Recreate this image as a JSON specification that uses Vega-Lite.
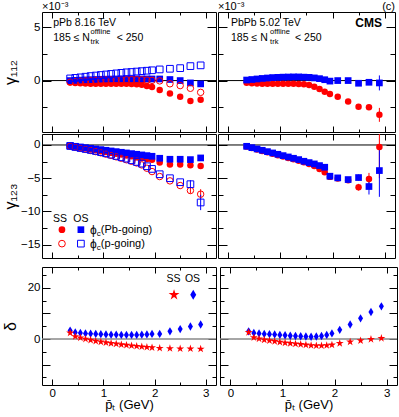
{
"$schema":"https://vega.github.io/schema/vega-lite/v6.json",
"padding":{"left":1,"top":0,"right":0,"bottom":0},
"config":{"font":"Liberation Sans","view":{"stroke":"#000","strokeWidth":1},"point":{"opacity":1},
"axis":{"domain":false,"grid":false,"tickColor":"#000","tickWidth":1,"labelColor":"#000","titleColor":"#000","labelFont":"Liberation Sans","titleFont":"Liberation Sans","labelFontSize":11.5,"titleFontWeight":"normal","labelPadding":3},
"text":{"font":"Liberation Sans","color":"#000"}},
"datasets":{
"A":[{"x":0.35,"sPb":-0.15,"oPb":0.0,"sp":-0.15,"op":0.2},{"x":0.45,"sPb":-0.22,"oPb":0.02,"sp":-0.1,"op":0.25},{"x":0.55,"sPb":-0.26,"oPb":0.04,"sp":-0.06,"op":0.3},{"x":0.65,"sPb":-0.28,"oPb":0.06,"sp":-0.03,"op":0.36},{"x":0.75,"sPb":-0.3,"oPb":0.08,"sp":0.0,"op":0.42},{"x":0.85,"sPb":-0.3,"oPb":0.1,"sp":0.02,"op":0.47},{"x":0.95,"sPb":-0.3,"oPb":0.12,"sp":0.04,"op":0.52},{"x":1.05,"sPb":-0.3,"oPb":0.13,"sp":0.05,"op":0.57},{"x":1.15,"sPb":-0.3,"oPb":0.14,"sp":0.06,"op":0.62},{"x":1.25,"sPb":-0.3,"oPb":0.15,"sp":0.07,"op":0.67},{"x":1.35,"sPb":-0.3,"oPb":0.15,"sp":0.08,"op":0.72},{"x":1.45,"sPb":-0.3,"oPb":0.15,"sp":0.08,"op":0.77},{"x":1.55,"sPb":-0.32,"oPb":0.15,"sp":0.08,"op":0.8},{"x":1.65,"sPb":-0.35,"oPb":0.15,"sp":0.08,"op":0.84},{"x":1.75,"sPb":-0.4,"oPb":0.15,"sp":0.07,"op":0.88},{"x":1.85,"sPb":-0.5,"oPb":0.15,"sp":0.05,"op":0.92},{"x":1.95,"sPb":-0.6,"oPb":0.15,"sp":0.02,"op":0.96},{"x":2.1,"sPb":-0.88,"oPb":0.15,"sp":-0.03,"op":1.04},{"x":2.3,"sPb":-1.2,"oPb":0.1,"sp":-0.3,"op":1.1},{"x":2.5,"sPb":-1.5,"oPb":0.0,"sp":-0.47,"op":1.16},{"x":2.7,"sPb":-1.9,"oPb":-0.22,"sp":-0.72,"op":1.35},{"x":2.9,"sPb":-1.8,"oPb":-0.31,"sp":-1.1,"op":1.42}],
"B":[{"x":0.35,"s":-0.2,"o":0.05},{"x":0.45,"s":-0.25,"o":0.1},{"x":0.55,"s":-0.28,"o":0.15},{"x":0.65,"s":-0.3,"o":0.2},{"x":0.75,"s":-0.3,"o":0.24},{"x":0.85,"s":-0.3,"o":0.28},{"x":0.95,"s":-0.3,"o":0.3},{"x":1.05,"s":-0.3,"o":0.32},{"x":1.15,"s":-0.3,"o":0.33},{"x":1.25,"s":-0.3,"o":0.34},{"x":1.35,"s":-0.32,"o":0.34},{"x":1.45,"s":-0.35,"o":0.32},{"x":1.55,"s":-0.42,"o":0.3},{"x":1.65,"s":-0.57,"o":0.25},{"x":1.75,"s":-0.79,"o":0.18},{"x":1.85,"s":-1.04,"o":0.08},{"x":1.95,"s":-1.26,"o":-0.05},{"x":2.1,"s":-1.5,"o":0.0},{"x":2.3,"s":-1.95,"o":0.0},{"x":2.5,"s":-2.45,"o":-0.25},{"x":2.7,"s":-2.5,"o":-0.16},{"x":2.9,"s":-3.2,"o":-0.22,"sLo":-3.85,"sHi":-2.55,"oLo":-0.92,"oHi":0.48}],
"C":[{"x":0.35,"sPb":-0.15,"oPb":-0.1,"sp":-0.2,"op":-0.15},{"x":0.45,"sPb":-0.28,"oPb":-0.2,"sp":-0.35,"op":-0.3},{"x":0.55,"sPb":-0.41,"oPb":-0.3,"sp":-0.5,"op":-0.45},{"x":0.65,"sPb":-0.54,"oPb":-0.4,"sp":-0.65,"op":-0.6},{"x":0.75,"sPb":-0.67,"oPb":-0.5,"sp":-0.82,"op":-0.75},{"x":0.85,"sPb":-0.8,"oPb":-0.6,"sp":-1.0,"op":-0.9},{"x":0.95,"sPb":-0.93,"oPb":-0.7,"sp":-1.18,"op":-1.07},{"x":1.05,"sPb":-1.06,"oPb":-0.8,"sp":-1.37,"op":-1.25},{"x":1.15,"sPb":-1.19,"oPb":-0.9,"sp":-1.57,"op":-1.45},{"x":1.25,"sPb":-1.32,"oPb":-1.0,"sp":-1.78,"op":-1.65},{"x":1.35,"sPb":-1.45,"oPb":-1.1,"sp":-2.0,"op":-1.85},{"x":1.45,"sPb":-1.58,"oPb":-1.2,"sp":-2.22,"op":-2.05},{"x":1.55,"sPb":-1.71,"oPb":-1.3,"sp":-2.45,"op":-2.3},{"x":1.65,"sPb":-1.84,"oPb":-1.4,"sp":-2.7,"op":-2.55},{"x":1.75,"sPb":-1.97,"oPb":-1.5,"sp":-3.0,"op":-2.8},{"x":1.85,"sPb":-2.1,"oPb":-1.6,"sp":-3.5,"op":-3.2},{"x":1.95,"sPb":-2.23,"oPb":-1.7,"sp":-4.0,"op":-3.6},{"x":2.1,"sPb":-2.65,"oPb":-2.0,"sp":-4.75,"op":-4.4},{"x":2.3,"sPb":-2.95,"oPb":-2.15,"sp":-5.4,"op":-5.0},{"x":2.5,"sPb":-2.95,"oPb":-2.15,"sp":-6.1,"op":-5.6},{"x":2.7,"sPb":-3.05,"oPb":-2.2,"sp":-6.85,"op":-5.9,"spLo":-7.3,"spHi":-6.4,"opLo":-6.5,"opHi":-5.3},{"x":2.9,"sPb":-3.15,"oPb":-1.95,"sp":-7.4,"op":-8.65,"spLo":-8.15,"spHi":-6.65,"opLo":-9.8,"opHi":-7.5}],
"D":[{"x":0.35,"s":-0.25,"o":-0.2},{"x":0.45,"s":-0.47,"o":-0.4},{"x":0.55,"s":-0.69,"o":-0.6},{"x":0.65,"s":-0.9,"o":-0.8},{"x":0.75,"s":-1.1,"o":-1.0},{"x":0.85,"s":-1.32,"o":-1.2},{"x":0.95,"s":-1.53,"o":-1.4},{"x":1.05,"s":-1.74,"o":-1.6},{"x":1.15,"s":-1.95,"o":-1.8},{"x":1.25,"s":-2.15,"o":-2.0},{"x":1.35,"s":-2.37,"o":-2.2},{"x":1.45,"s":-2.6,"o":-2.45},{"x":1.55,"s":-2.85,"o":-2.65},{"x":1.65,"s":-3.15,"o":-2.85},{"x":1.75,"s":-3.6,"o":-3.1},{"x":1.85,"s":-4.1,"o":-3.35},{"x":1.95,"s":-4.8,"o":-4.7},{"x":2.1,"s":-5.05,"o":-4.95},{"x":2.3,"s":-5.3,"o":-5.2},{"x":2.5,"s":-6.35,"o":-4.9,"sLo":-6.85,"sHi":-5.85,"oLo":-5.35,"oHi":-4.45},{"x":2.7,"s":-5.1,"o":-6.25,"sLo":-6.0,"sHi":-4.2,"oLo":-7.45,"oHi":-5.05},{"x":2.9,"s":-0.3,"o":-3.85,"sLo":-5.0,"sHi":4.4,"oLo":-7.8,"oHi":0.1}],
"E":[{"x":0.35,"s":2.4,"o":3.3},{"x":0.45,"s":1.0,"o":2.6},{"x":0.55,"s":0.5,"o":2.4},{"x":0.65,"s":0.0,"o":2.2},{"x":0.75,"s":-0.4,"o":2.1},{"x":0.85,"s":-0.8,"o":2.0},{"x":0.95,"s":-1.1,"o":1.9},{"x":1.05,"s":-1.4,"o":1.8},{"x":1.15,"s":-1.7,"o":1.7},{"x":1.25,"s":-1.9,"o":1.7},{"x":1.35,"s":-2.2,"o":1.6},{"x":1.45,"s":-2.4,"o":1.6},{"x":1.55,"s":-2.6,"o":1.6},{"x":1.65,"s":-2.8,"o":1.6},{"x":1.75,"s":-3.0,"o":1.7},{"x":1.85,"s":-3.2,"o":1.8},{"x":1.95,"s":-3.35,"o":2.0},{"x":2.1,"s":-3.6,"o":2.0},{"x":2.3,"s":-3.7,"o":3.0},{"x":2.5,"s":-3.8,"o":3.9},{"x":2.7,"s":-3.8,"o":4.9},{"x":2.9,"s":-3.9,"o":5.7}],
"F":[{"x":0.35,"s":2.6,"o":3.0},{"x":0.45,"s":0.6,"o":2.4},{"x":0.55,"s":0.1,"o":2.2},{"x":0.65,"s":-0.3,"o":2.0},{"x":0.75,"s":-0.6,"o":1.9},{"x":0.85,"s":-0.9,"o":1.8},{"x":0.95,"s":-1.2,"o":1.6},{"x":1.05,"s":-1.5,"o":1.5},{"x":1.15,"s":-1.7,"o":1.3},{"x":1.25,"s":-1.9,"o":1.2},{"x":1.35,"s":-2.1,"o":1.1},{"x":1.45,"s":-2.3,"o":1.0},{"x":1.55,"s":-2.5,"o":0.9},{"x":1.65,"s":-2.6,"o":1.0},{"x":1.75,"s":-2.6,"o":1.2},{"x":1.85,"s":-2.5,"o":1.6},{"x":1.95,"s":-2.3,"o":2.2},{"x":2.1,"s":-1.7,"o":3.6},{"x":2.3,"s":-1.1,"o":5.7},{"x":2.5,"s":-0.6,"o":8.1},{"x":2.7,"s":-0.1,"o":10.6},{"x":2.9,"s":0.3,"o":12.8}]
},
"spacing":7,
"vconcat":[
{"spacing":0,"vconcat":[
{"spacing":0,"hconcat":[
{"width":174,"height":120,"resolve":{"axis":{"x":"independent","y":"independent"}},"layer":[
{"data":{"values":[{}]},"mark":{"type":"rule","color":"#000","strokeWidth":1},"encoding":{"y":{"datum":0,"type":"quantitative","scale":{"domain":[-4.8,6.4],"nice":false,"zero":false},"axis":null}}},
{"data":{"name":"A"},"mark":{"type":"point","shape":"circle","filled":true,"color":"#ff0000","size":42},"encoding":{"x":{"field":"x","type":"quantitative","scale":{"domain":[-0.2,3.2],"nice":false,"zero":false},"axis":{"orient":"bottom","values":[0,0.5,1,1.5,2,2.5,3],"labels":false,"title":null,"tickSize":{"condition":{"test":"datum.value % 1 === 0","value":-6},"value":-3}}},"y":{"field":"sPb","type":"quantitative","scale":{"domain":[-4.8,6.4],"nice":false,"zero":false},"axis":{"orient":"left","values":[-2.5,0,2.5,5],"labelExpr":"datum.value % 5 === 0 ? format(datum.value, 'd') : ''","labelPadding":11,"tickSize":{"condition":{"test":"datum.value % 5 === 0","value":-9},"value":-5},"title":"γ₁₁₂","titleFontSize":16,"titlePadding":0,"minExtent":24,"maxExtent":24}}}},
{"data":{"name":"A"},"mark":{"type":"point","shape":"square","filled":true,"color":"#0000ff","size":45},"encoding":{"x":{"field":"x","type":"quantitative","scale":{"domain":[-0.2,3.2],"nice":false,"zero":false},"axis":{"orient":"top","values":[0,0.5,1,1.5,2,2.5,3],"labels":false,"title":null,"tickSize":{"condition":{"test":"datum.value % 1 === 0","value":-6},"value":-3}}},"y":{"field":"oPb","type":"quantitative","scale":{"domain":[-4.8,6.4],"nice":false,"zero":false},"axis":{"orient":"right","values":[-2.5,0,2.5,5],"labels":false,"title":null,"tickSize":{"condition":{"test":"datum.value % 5 === 0","value":-9},"value":-5},"minExtent":0,"maxExtent":0}}}},
{"data":{"name":"A"},"mark":{"type":"point","shape":"circle","filled":false,"color":"#ff0000","strokeWidth":1,"size":42},"encoding":{"x":{"field":"x","type":"quantitative","scale":{"domain":[-0.2,3.2],"nice":false,"zero":false},"axis":null},"y":{"field":"sp","type":"quantitative","scale":{"domain":[-4.8,6.4],"nice":false,"zero":false},"axis":null}}},
{"data":{"name":"A"},"mark":{"type":"point","shape":"square","filled":false,"color":"#0000ff","strokeWidth":1,"size":45},"encoding":{"x":{"field":"x","type":"quantitative","scale":{"domain":[-0.2,3.2],"nice":false,"zero":false},"axis":null},"y":{"field":"op","type":"quantitative","scale":{"domain":[-4.8,6.4],"nice":false,"zero":false},"axis":null}}},
{"data":{"values":[{}]},"mark":{"type":"text","text":"×10⁻³","align":"left","baseline":"bottom","dy":0,"fontSize":11},"encoding":{"x":{"datum":-0.2,"type":"quantitative","scale":{"domain":[-0.2,3.2],"nice":false,"zero":false},"axis":null},"y":{"datum":6.4,"type":"quantitative","scale":{"domain":[-4.8,6.4],"nice":false,"zero":false},"axis":null}}},
{"data":{"values":[{}]},"mark":{"type":"text","text":"pPb 8.16 TeV","align":"left","baseline":"middle","fontSize":10.5},"encoding":{"x":{"datum":0.02,"type":"quantitative","scale":{"domain":[-0.2,3.2],"nice":false,"zero":false},"axis":null},"y":{"datum":5.4,"type":"quantitative","scale":{"domain":[-4.8,6.4],"nice":false,"zero":false},"axis":null}}},
{"data":{"values":[{}]},"mark":{"type":"text","text":"185 ≤ N","align":"left","baseline":"middle","fontSize":10.5},"encoding":{"x":{"datum":0.02,"type":"quantitative","scale":{"domain":[-0.2,3.2],"nice":false,"zero":false},"axis":null},"y":{"datum":3.95,"type":"quantitative","scale":{"domain":[-4.8,6.4],"nice":false,"zero":false},"axis":null}}},
{"data":{"values":[{}]},"mark":{"type":"text","text":"offline","align":"left","baseline":"middle","fontSize":7.5},"encoding":{"x":{"datum":0.75,"type":"quantitative","scale":{"domain":[-0.2,3.2],"nice":false,"zero":false},"axis":null},"y":{"datum":4.55,"type":"quantitative","scale":{"domain":[-4.8,6.4],"nice":false,"zero":false},"axis":null}}},
{"data":{"values":[{}]},"mark":{"type":"text","text":"trk","align":"left","baseline":"middle","fontSize":7.5},"encoding":{"x":{"datum":0.75,"type":"quantitative","scale":{"domain":[-0.2,3.2],"nice":false,"zero":false},"axis":null},"y":{"datum":3.6,"type":"quantitative","scale":{"domain":[-4.8,6.4],"nice":false,"zero":false},"axis":null}}},
{"data":{"values":[{}]},"mark":{"type":"text","text":"< 250","align":"left","baseline":"middle","fontSize":10.5},"encoding":{"x":{"datum":1.26,"type":"quantitative","scale":{"domain":[-0.2,3.2],"nice":false,"zero":false},"axis":null},"y":{"datum":3.95,"type":"quantitative","scale":{"domain":[-4.8,6.4],"nice":false,"zero":false},"axis":null}}}
]},
{"width":177,"height":120,"resolve":{"axis":{"x":"independent","y":"independent"}},"layer":[
{"data":{"values":[{}]},"mark":{"type":"rule","color":"#000","strokeWidth":1},"encoding":{"y":{"datum":0,"type":"quantitative","scale":{"domain":[-4.8,6.4],"nice":false,"zero":false},"axis":null}}},
{"data":{"name":"B"},"transform":[{"filter":"isValid(datum.sLo)"}],"mark":{"type":"rule","color":"#ff0000","strokeWidth":1,"clip":true},"encoding":{"x":{"field":"x","type":"quantitative","scale":{"domain":[-0.2,3.2],"nice":false,"zero":false},"axis":null},"y":{"field":"sLo","type":"quantitative","scale":{"domain":[-4.8,6.4],"nice":false,"zero":false},"axis":null},"y2":{"field":"sHi"}}},
{"data":{"name":"B"},"transform":[{"filter":"isValid(datum.oLo)"}],"mark":{"type":"rule","color":"#0000ff","strokeWidth":1,"clip":true},"encoding":{"x":{"field":"x","type":"quantitative","scale":{"domain":[-0.2,3.2],"nice":false,"zero":false},"axis":null},"y":{"field":"oLo","type":"quantitative","scale":{"domain":[-4.8,6.4],"nice":false,"zero":false},"axis":null},"y2":{"field":"oHi"}}},
{"data":{"name":"B"},"mark":{"type":"point","shape":"circle","filled":true,"color":"#ff0000","size":42},"encoding":{"x":{"field":"x","type":"quantitative","scale":{"domain":[-0.2,3.2],"nice":false,"zero":false},"axis":{"orient":"bottom","values":[0,0.5,1,1.5,2,2.5,3],"labels":false,"title":null,"tickSize":{"condition":{"test":"datum.value % 1 === 0","value":-6},"value":-3}}},"y":{"field":"s","type":"quantitative","scale":{"domain":[-4.8,6.4],"nice":false,"zero":false},"axis":{"orient":"left","values":[-2.5,0,2.5,5],"labels":false,"title":null,"tickSize":{"condition":{"test":"datum.value % 5 === 0","value":-9},"value":-5},"minExtent":0,"maxExtent":0}}}},
{"data":{"name":"B"},"mark":{"type":"point","shape":"square","filled":true,"color":"#0000ff","size":45},"encoding":{"x":{"field":"x","type":"quantitative","scale":{"domain":[-0.2,3.2],"nice":false,"zero":false},"axis":{"orient":"top","values":[0,0.5,1,1.5,2,2.5,3],"labels":false,"title":null,"tickSize":{"condition":{"test":"datum.value % 1 === 0","value":-6},"value":-3}}},"y":{"field":"o","type":"quantitative","scale":{"domain":[-4.8,6.4],"nice":false,"zero":false},"axis":{"orient":"right","values":[-2.5,0,2.5,5],"labels":false,"title":null,"tickSize":{"condition":{"test":"datum.value % 5 === 0","value":-9},"value":-5},"minExtent":0,"maxExtent":0}}}},
{"data":{"values":[{}]},"mark":{"type":"text","text":"×10⁻³","align":"left","baseline":"bottom","dy":0,"fontSize":11},"encoding":{"x":{"datum":-0.2,"type":"quantitative","scale":{"domain":[-0.2,3.2],"nice":false,"zero":false},"axis":null},"y":{"datum":6.4,"type":"quantitative","scale":{"domain":[-4.8,6.4],"nice":false,"zero":false},"axis":null}}},
{"data":{"values":[{}]},"mark":{"type":"text","text":"(c)","align":"right","baseline":"bottom","dy":0,"fontSize":11},"encoding":{"x":{"datum":3.2,"type":"quantitative","scale":{"domain":[-0.2,3.2],"nice":false,"zero":false},"axis":null},"y":{"datum":6.4,"type":"quantitative","scale":{"domain":[-4.8,6.4],"nice":false,"zero":false},"axis":null}}},
{"data":{"values":[{}]},"mark":{"type":"text","text":"PbPb 5.02 TeV","align":"left","baseline":"middle","fontSize":10.5},"encoding":{"x":{"datum":0.05,"type":"quantitative","scale":{"domain":[-0.2,3.2],"nice":false,"zero":false},"axis":null},"y":{"datum":5.4,"type":"quantitative","scale":{"domain":[-4.8,6.4],"nice":false,"zero":false},"axis":null}}},
{"data":{"values":[{}]},"mark":{"type":"text","text":"CMS","align":"right","baseline":"middle","fontSize":12,"fontWeight":"bold"},"encoding":{"x":{"datum":2.95,"type":"quantitative","scale":{"domain":[-0.2,3.2],"nice":false,"zero":false},"axis":null},"y":{"datum":5.4,"type":"quantitative","scale":{"domain":[-4.8,6.4],"nice":false,"zero":false},"axis":null}}},
{"data":{"values":[{}]},"mark":{"type":"text","text":"185 ≤ N","align":"left","baseline":"middle","fontSize":10.5},"encoding":{"x":{"datum":0.05,"type":"quantitative","scale":{"domain":[-0.2,3.2],"nice":false,"zero":false},"axis":null},"y":{"datum":3.95,"type":"quantitative","scale":{"domain":[-4.8,6.4],"nice":false,"zero":false},"axis":null}}},
{"data":{"values":[{}]},"mark":{"type":"text","text":"offline","align":"left","baseline":"middle","fontSize":7.5},"encoding":{"x":{"datum":0.8,"type":"quantitative","scale":{"domain":[-0.2,3.2],"nice":false,"zero":false},"axis":null},"y":{"datum":4.55,"type":"quantitative","scale":{"domain":[-4.8,6.4],"nice":false,"zero":false},"axis":null}}},
{"data":{"values":[{}]},"mark":{"type":"text","text":"trk","align":"left","baseline":"middle","fontSize":7.5},"encoding":{"x":{"datum":0.8,"type":"quantitative","scale":{"domain":[-0.2,3.2],"nice":false,"zero":false},"axis":null},"y":{"datum":3.6,"type":"quantitative","scale":{"domain":[-4.8,6.4],"nice":false,"zero":false},"axis":null}}},
{"data":{"values":[{}]},"mark":{"type":"text","text":"< 250","align":"left","baseline":"middle","fontSize":10.5},"encoding":{"x":{"datum":1.28,"type":"quantitative","scale":{"domain":[-0.2,3.2],"nice":false,"zero":false},"axis":null},"y":{"datum":3.95,"type":"quantitative","scale":{"domain":[-4.8,6.4],"nice":false,"zero":false},"axis":null}}}
]}
]},
{"spacing":0,"hconcat":[
{"width":174,"height":124,"resolve":{"axis":{"x":"independent","y":"independent"}},"layer":[
{"data":{"values":[{}]},"mark":{"type":"rule","color":"#000","strokeWidth":1},"encoding":{"y":{"datum":0,"type":"quantitative","scale":{"domain":[-17,1.65],"nice":false,"zero":false},"axis":null}}},
{"data":{"name":"C"},"transform":[{"filter":"isValid(datum.spLo)"}],"mark":{"type":"rule","color":"#ff0000","strokeWidth":1,"clip":true},"encoding":{"x":{"field":"x","type":"quantitative","scale":{"domain":[-0.2,3.2],"nice":false,"zero":false},"axis":null},"y":{"field":"spLo","type":"quantitative","scale":{"domain":[-17,1.65],"nice":false,"zero":false},"axis":null},"y2":{"field":"spHi"}}},
{"data":{"name":"C"},"transform":[{"filter":"isValid(datum.opLo)"}],"mark":{"type":"rule","color":"#0000ff","strokeWidth":1,"clip":true},"encoding":{"x":{"field":"x","type":"quantitative","scale":{"domain":[-0.2,3.2],"nice":false,"zero":false},"axis":null},"y":{"field":"opLo","type":"quantitative","scale":{"domain":[-17,1.65],"nice":false,"zero":false},"axis":null},"y2":{"field":"opHi"}}},
{"data":{"name":"C"},"mark":{"type":"point","shape":"circle","filled":true,"color":"#ff0000","size":42},"encoding":{"x":{"field":"x","type":"quantitative","scale":{"domain":[-0.2,3.2],"nice":false,"zero":false},"axis":{"orient":"bottom","values":[0,0.5,1,1.5,2,2.5,3],"labels":false,"title":null,"tickSize":{"condition":{"test":"datum.value % 1 === 0","value":-6},"value":-3}}},"y":{"field":"sPb","type":"quantitative","scale":{"domain":[-17,1.65],"nice":false,"zero":false},"axis":{"orient":"left","values":[-15,-12.5,-10,-7.5,-5,-2.5,0],"labelExpr":"datum.value % 5 === 0 ? format(datum.value, 'd') : ''","labelPadding":11,"tickSize":{"condition":{"test":"datum.value % 5 === 0","value":-9},"value":-5},"title":"γ₁₂₃","titleFontSize":16,"titlePadding":0,"minExtent":24,"maxExtent":24}}}},
{"data":{"name":"C"},"mark":{"type":"point","shape":"square","filled":true,"color":"#0000ff","size":45},"encoding":{"x":{"field":"x","type":"quantitative","scale":{"domain":[-0.2,3.2],"nice":false,"zero":false},"axis":{"orient":"top","values":[0,0.5,1,1.5,2,2.5,3],"labels":false,"title":null,"tickSize":{"condition":{"test":"datum.value % 1 === 0","value":-6},"value":-3}}},"y":{"field":"oPb","type":"quantitative","scale":{"domain":[-17,1.65],"nice":false,"zero":false},"axis":{"orient":"right","values":[-15,-12.5,-10,-7.5,-5,-2.5,0],"labels":false,"title":null,"tickSize":{"condition":{"test":"datum.value % 5 === 0","value":-9},"value":-5},"minExtent":0,"maxExtent":0}}}},
{"data":{"name":"C"},"mark":{"type":"point","shape":"circle","filled":false,"color":"#ff0000","strokeWidth":1,"size":42},"encoding":{"x":{"field":"x","type":"quantitative","scale":{"domain":[-0.2,3.2],"nice":false,"zero":false},"axis":null},"y":{"field":"sp","type":"quantitative","scale":{"domain":[-17,1.65],"nice":false,"zero":false},"axis":null}}},
{"data":{"name":"C"},"mark":{"type":"point","shape":"square","filled":false,"color":"#0000ff","strokeWidth":1,"size":45},"encoding":{"x":{"field":"x","type":"quantitative","scale":{"domain":[-0.2,3.2],"nice":false,"zero":false},"axis":null},"y":{"field":"op","type":"quantitative","scale":{"domain":[-17,1.65],"nice":false,"zero":false},"axis":null}}},
{"data":{"values":[{}]},"mark":{"type":"text","text":"SS","align":"center","baseline":"middle","fontSize":10.5},"encoding":{"x":{"datum":0.15,"type":"quantitative","scale":{"domain":[-0.2,3.2],"nice":false,"zero":false},"axis":null},"y":{"datum":-11.1,"type":"quantitative","scale":{"domain":[-17,1.65],"nice":false,"zero":false},"axis":null}}},
{"data":{"values":[{}]},"mark":{"type":"text","text":"OS","align":"center","baseline":"middle","fontSize":10.5},"encoding":{"x":{"datum":0.56,"type":"quantitative","scale":{"domain":[-0.2,3.2],"nice":false,"zero":false},"axis":null},"y":{"datum":-11.1,"type":"quantitative","scale":{"domain":[-17,1.65],"nice":false,"zero":false},"axis":null}}},
{"data":{"values":[{}]},"mark":{"type":"point","shape":"circle","filled":true,"color":"#ff0000","size":45},"encoding":{"x":{"datum":0.19,"type":"quantitative","scale":{"domain":[-0.2,3.2],"nice":false,"zero":false},"axis":null},"y":{"datum":-12.74,"type":"quantitative","scale":{"domain":[-17,1.65],"nice":false,"zero":false},"axis":null}}},
{"data":{"values":[{}]},"mark":{"type":"point","shape":"square","filled":true,"color":"#0000ff","size":45},"encoding":{"x":{"datum":0.56,"type":"quantitative","scale":{"domain":[-0.2,3.2],"nice":false,"zero":false},"axis":null},"y":{"datum":-12.74,"type":"quantitative","scale":{"domain":[-17,1.65],"nice":false,"zero":false},"axis":null}}},
{"data":{"values":[{}]},"mark":{"type":"point","shape":"circle","filled":false,"strokeWidth":1,"color":"#ff0000","size":45},"encoding":{"x":{"datum":0.19,"type":"quantitative","scale":{"domain":[-0.2,3.2],"nice":false,"zero":false},"axis":null},"y":{"datum":-14.84,"type":"quantitative","scale":{"domain":[-17,1.65],"nice":false,"zero":false},"axis":null}}},
{"data":{"values":[{}]},"mark":{"type":"point","shape":"square","filled":false,"strokeWidth":1,"color":"#0000ff","size":45},"encoding":{"x":{"datum":0.56,"type":"quantitative","scale":{"domain":[-0.2,3.2],"nice":false,"zero":false},"axis":null},"y":{"datum":-14.84,"type":"quantitative","scale":{"domain":[-17,1.65],"nice":false,"zero":false},"axis":null}}},
{"data":{"values":[{}]},"mark":{"type":"text","text":"ϕ","align":"left","baseline":"middle","fontSize":12},"encoding":{"x":{"datum":0.74,"type":"quantitative","scale":{"domain":[-0.2,3.2],"nice":false,"zero":false},"axis":null},"y":{"datum":-12.74,"type":"quantitative","scale":{"domain":[-17,1.65],"nice":false,"zero":false},"axis":null}}},
{"data":{"values":[{}]},"mark":{"type":"text","text":"c","align":"left","baseline":"middle","fontSize":8},"encoding":{"x":{"datum":0.87,"type":"quantitative","scale":{"domain":[-0.2,3.2],"nice":false,"zero":false},"axis":null},"y":{"datum":-13.4,"type":"quantitative","scale":{"domain":[-17,1.65],"nice":false,"zero":false},"axis":null}}},
{"data":{"values":[{}]},"mark":{"type":"text","text":"(Pb-going)","align":"left","baseline":"middle","fontSize":11},"encoding":{"x":{"datum":0.95,"type":"quantitative","scale":{"domain":[-0.2,3.2],"nice":false,"zero":false},"axis":null},"y":{"datum":-12.74,"type":"quantitative","scale":{"domain":[-17,1.65],"nice":false,"zero":false},"axis":null}}},
{"data":{"values":[{}]},"mark":{"type":"text","text":"ϕ","align":"left","baseline":"middle","fontSize":12},"encoding":{"x":{"datum":0.74,"type":"quantitative","scale":{"domain":[-0.2,3.2],"nice":false,"zero":false},"axis":null},"y":{"datum":-14.84,"type":"quantitative","scale":{"domain":[-17,1.65],"nice":false,"zero":false},"axis":null}}},
{"data":{"values":[{}]},"mark":{"type":"text","text":"c","align":"left","baseline":"middle","fontSize":8},"encoding":{"x":{"datum":0.87,"type":"quantitative","scale":{"domain":[-0.2,3.2],"nice":false,"zero":false},"axis":null},"y":{"datum":-15.5,"type":"quantitative","scale":{"domain":[-17,1.65],"nice":false,"zero":false},"axis":null}}},
{"data":{"values":[{}]},"mark":{"type":"text","text":"(p-going)","align":"left","baseline":"middle","fontSize":11},"encoding":{"x":{"datum":0.95,"type":"quantitative","scale":{"domain":[-0.2,3.2],"nice":false,"zero":false},"axis":null},"y":{"datum":-14.84,"type":"quantitative","scale":{"domain":[-17,1.65],"nice":false,"zero":false},"axis":null}}}
]},
{"width":177,"height":124,"resolve":{"axis":{"x":"independent","y":"independent"}},"layer":[
{"data":{"values":[{}]},"mark":{"type":"rule","color":"#000","strokeWidth":1},"encoding":{"y":{"datum":0,"type":"quantitative","scale":{"domain":[-17,1.65],"nice":false,"zero":false},"axis":null}}},
{"data":{"name":"D"},"transform":[{"filter":"isValid(datum.sLo)"}],"mark":{"type":"rule","color":"#ff0000","strokeWidth":1,"clip":true},"encoding":{"x":{"field":"x","type":"quantitative","scale":{"domain":[-0.2,3.2],"nice":false,"zero":false},"axis":null},"y":{"field":"sLo","type":"quantitative","scale":{"domain":[-17,1.65],"nice":false,"zero":false},"axis":null},"y2":{"field":"sHi"}}},
{"data":{"name":"D"},"transform":[{"filter":"isValid(datum.oLo)"}],"mark":{"type":"rule","color":"#0000ff","strokeWidth":1,"clip":true},"encoding":{"x":{"field":"x","type":"quantitative","scale":{"domain":[-0.2,3.2],"nice":false,"zero":false},"axis":null},"y":{"field":"oLo","type":"quantitative","scale":{"domain":[-17,1.65],"nice":false,"zero":false},"axis":null},"y2":{"field":"oHi"}}},
{"data":{"name":"D"},"mark":{"type":"point","shape":"circle","filled":true,"color":"#ff0000","size":42},"encoding":{"x":{"field":"x","type":"quantitative","scale":{"domain":[-0.2,3.2],"nice":false,"zero":false},"axis":{"orient":"bottom","values":[0,0.5,1,1.5,2,2.5,3],"labels":false,"title":null,"tickSize":{"condition":{"test":"datum.value % 1 === 0","value":-6},"value":-3}}},"y":{"field":"s","type":"quantitative","scale":{"domain":[-17,1.65],"nice":false,"zero":false},"axis":{"orient":"left","values":[-15,-12.5,-10,-7.5,-5,-2.5,0],"labels":false,"title":null,"tickSize":{"condition":{"test":"datum.value % 5 === 0","value":-9},"value":-5},"minExtent":0,"maxExtent":0}}}},
{"data":{"name":"D"},"mark":{"type":"point","shape":"square","filled":true,"color":"#0000ff","size":45},"encoding":{"x":{"field":"x","type":"quantitative","scale":{"domain":[-0.2,3.2],"nice":false,"zero":false},"axis":{"orient":"top","values":[0,0.5,1,1.5,2,2.5,3],"labels":false,"title":null,"tickSize":{"condition":{"test":"datum.value % 1 === 0","value":-6},"value":-3}}},"y":{"field":"o","type":"quantitative","scale":{"domain":[-17,1.65],"nice":false,"zero":false},"axis":{"orient":"right","values":[-15,-12.5,-10,-7.5,-5,-2.5,0],"labels":false,"title":null,"tickSize":{"condition":{"test":"datum.value % 5 === 0","value":-9},"value":-5},"minExtent":0,"maxExtent":0}}}}
]}
]}
]},
{"spacing":0,"hconcat":[
{"width":174,"height":118,"resolve":{"axis":{"x":"independent","y":"independent"}},"layer":[
{"data":{"values":[{}]},"mark":{"type":"rule","color":"#888888","strokeWidth":1.5},"encoding":{"y":{"datum":0,"type":"quantitative","scale":{"domain":[-18,28.2],"nice":false,"zero":false},"axis":null}}},
{"data":{"name":"E"},"mark":{"type":"point","shape":"M0,-1L0.6,0L0,1L-0.6,0Z","filled":true,"color":"#0000ff","size":70},"encoding":{"x":{"field":"x","type":"quantitative","scale":{"domain":[-0.2,3.2],"nice":false,"zero":false},"axis":{"orient":"bottom","values":[0,0.5,1,1.5,2,2.5,3],"labelExpr":"datum.value % 1 === 0 ? format(datum.value, 'd') : ''","labelPadding":8,"tickSize":{"condition":{"test":"datum.value % 1 === 0","value":-6},"value":-3},"title":"p̄ₜ (GeV)","titleFontSize":13,"titlePadding":0}},"y":{"field":"o","type":"quantitative","scale":{"domain":[-18,28.2],"nice":false,"zero":false},"axis":{"orient":"left","values":[-15,-10,-5,0,5,10,15,20,25],"labelExpr":"datum.value % 20 === 0 ? format(datum.value, 'd') : ''","labelPadding":10,"tickSize":{"condition":{"test":"datum.value % 10 === 0","value":-8},"value":-4},"title":"δ","titleFontSize":16,"titlePadding":0,"minExtent":24,"maxExtent":24}}}},
{"data":{"name":"E"},"mark":{"type":"point","shape":"M0,-1L0.223,-0.307L0.951,-0.309L0.361,0.117L0.588,0.809L0,0.38L-0.588,0.809L-0.361,0.117L-0.951,-0.309L-0.223,-0.307Z","filled":true,"color":"#ff0000","size":70},"encoding":{"x":{"field":"x","type":"quantitative","scale":{"domain":[-0.2,3.2],"nice":false,"zero":false},"axis":{"orient":"top","values":[0,0.5,1,1.5,2,2.5,3],"labels":false,"title":null,"tickSize":{"condition":{"test":"datum.value % 1 === 0","value":-6},"value":-3}}},"y":{"field":"s","type":"quantitative","scale":{"domain":[-18,28.2],"nice":false,"zero":false},"axis":{"orient":"right","values":[-15,-10,-5,0,5,10,15,20,25],"labels":false,"title":null,"tickSize":{"condition":{"test":"datum.value % 10 === 0","value":-8},"value":-4},"minExtent":0,"maxExtent":0}}}},
{"data":{"values":[{}]},"mark":{"type":"text","text":"SS","align":"center","baseline":"middle","fontSize":10.5},"encoding":{"x":{"datum":2.37,"type":"quantitative","scale":{"domain":[-0.2,3.2],"nice":false,"zero":false},"axis":null},"y":{"datum":23.6,"type":"quantitative","scale":{"domain":[-18,28.2],"nice":false,"zero":false},"axis":null}}},
{"data":{"values":[{}]},"mark":{"type":"text","text":"OS","align":"center","baseline":"middle","fontSize":10.5},"encoding":{"x":{"datum":2.74,"type":"quantitative","scale":{"domain":[-0.2,3.2],"nice":false,"zero":false},"axis":null},"y":{"datum":23.6,"type":"quantitative","scale":{"domain":[-18,28.2],"nice":false,"zero":false},"axis":null}}},
{"data":{"values":[{}]},"mark":{"type":"point","shape":"M0,-1L0.223,-0.307L0.951,-0.309L0.361,0.117L0.588,0.809L0,0.38L-0.588,0.809L-0.361,0.117L-0.951,-0.309L-0.223,-0.307Z","filled":true,"color":"#ff0000","size":130},"encoding":{"x":{"datum":2.38,"type":"quantitative","scale":{"domain":[-0.2,3.2],"nice":false,"zero":false},"axis":null},"y":{"datum":17.3,"type":"quantitative","scale":{"domain":[-18,28.2],"nice":false,"zero":false},"axis":null}}},
{"data":{"values":[{}]},"mark":{"type":"point","shape":"M0,-1L0.6,0L0,1L-0.6,0Z","filled":true,"color":"#0000ff","size":100},"encoding":{"x":{"datum":2.755,"type":"quantitative","scale":{"domain":[-0.2,3.2],"nice":false,"zero":false},"axis":null},"y":{"datum":17.3,"type":"quantitative","scale":{"domain":[-18,28.2],"nice":false,"zero":false},"axis":null}}}
]},
{"width":177,"height":118,"resolve":{"axis":{"x":"independent","y":"independent"}},"layer":[
{"data":{"values":[{}]},"mark":{"type":"rule","color":"#888888","strokeWidth":1.5},"encoding":{"y":{"datum":0,"type":"quantitative","scale":{"domain":[-18,28.2],"nice":false,"zero":false},"axis":null}}},
{"data":{"name":"F"},"mark":{"type":"point","shape":"M0,-1L0.6,0L0,1L-0.6,0Z","filled":true,"color":"#0000ff","size":70},"encoding":{"x":{"field":"x","type":"quantitative","scale":{"domain":[-0.2,3.2],"nice":false,"zero":false},"axis":{"orient":"bottom","values":[0,0.5,1,1.5,2,2.5,3],"labelExpr":"datum.value % 1 === 0 ? format(datum.value, 'd') : ''","labelPadding":8,"tickSize":{"condition":{"test":"datum.value % 1 === 0","value":-6},"value":-3},"title":"p̄ₜ (GeV)","titleFontSize":13,"titlePadding":0}},"y":{"field":"o","type":"quantitative","scale":{"domain":[-18,28.2],"nice":false,"zero":false},"axis":{"orient":"left","values":[-15,-10,-5,0,5,10,15,20,25],"labels":false,"title":null,"tickSize":{"condition":{"test":"datum.value % 10 === 0","value":-8},"value":-4},"minExtent":0,"maxExtent":0}}}},
{"data":{"name":"F"},"mark":{"type":"point","shape":"M0,-1L0.223,-0.307L0.951,-0.309L0.361,0.117L0.588,0.809L0,0.38L-0.588,0.809L-0.361,0.117L-0.951,-0.309L-0.223,-0.307Z","filled":true,"color":"#ff0000","size":70},"encoding":{"x":{"field":"x","type":"quantitative","scale":{"domain":[-0.2,3.2],"nice":false,"zero":false},"axis":{"orient":"top","values":[0,0.5,1,1.5,2,2.5,3],"labels":false,"title":null,"tickSize":{"condition":{"test":"datum.value % 1 === 0","value":-6},"value":-3}}},"y":{"field":"s","type":"quantitative","scale":{"domain":[-18,28.2],"nice":false,"zero":false},"axis":{"orient":"right","values":[-15,-10,-5,0,5,10,15,20,25],"labels":false,"title":null,"tickSize":{"condition":{"test":"datum.value % 10 === 0","value":-8},"value":-4},"minExtent":0,"maxExtent":0}}}}
]}
]}
]
}
